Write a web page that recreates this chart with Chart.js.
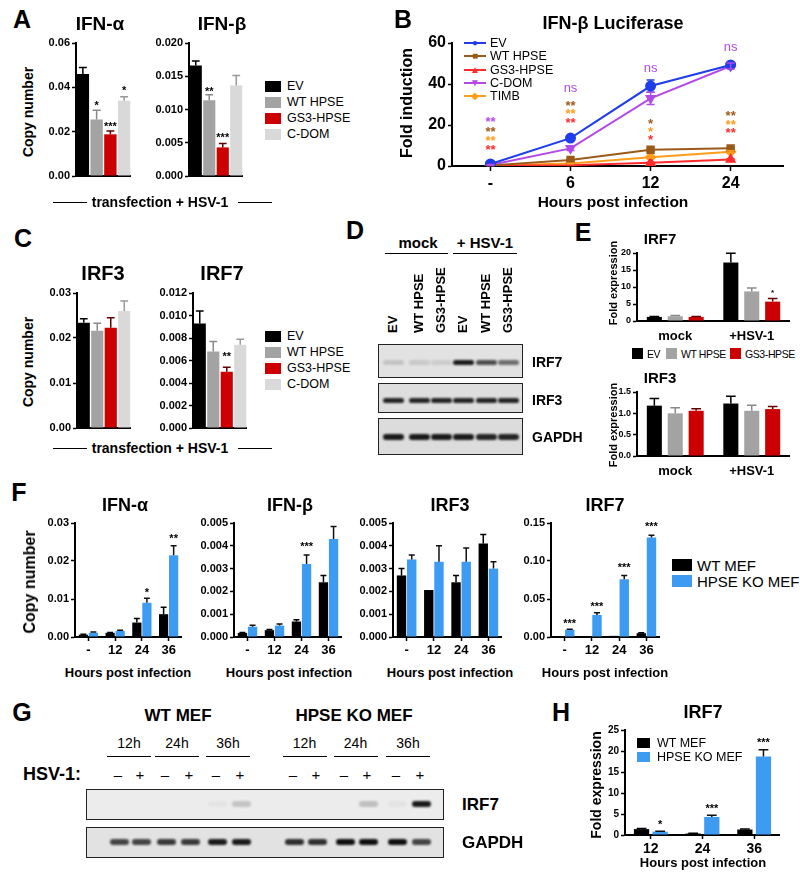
<!DOCTYPE html>
<html>
<head>
<meta charset="utf-8">
<script src="https://cdn.jsdelivr.net/npm/chart.js@4.4.1/dist/chart.umd.min.js"></script>
<style>
  body { margin: 0; background: #fff; }
  #fig { position: relative; width: 800px; height: 872px; overflow: hidden; font-family: "Liberation Sans", Arial, sans-serif; color: #000; }
  #fig canvas { position: absolute; }
  .t { position: absolute; white-space: nowrap; font-weight: bold; line-height: 1; transform: translate(-50%, -50%); }
  .tl { position: absolute; white-space: nowrap; line-height: 1; transform: translateY(-50%); }
  .rot { position: absolute; white-space: nowrap; font-weight: bold; line-height: 1; transform: translate(-50%, -50%) rotate(-90deg); }
  .lane { position: absolute; white-space: nowrap; font-weight: bold; line-height: 1; font-size: 13px; transform-origin: 0 0; transform: rotate(-90deg); }
  .hl { position: absolute; height: 0; border-top: 1.5px solid #000; }
  .sq { position: absolute; }
  .blot { position: absolute; border: 1.5px solid #222; box-sizing: border-box; overflow: hidden; }
  .band { position: absolute; border-radius: 3px; filter: blur(0.9px); }
</style>
</head>
<body>
<div id="fig"></div>
<script>
// ---- datos ----
const grupos = ["EV", "WT HPSE", "GS3-HPSE", "C-DOM"];
const ifnaA = [0.046, 0.0255, 0.0188, 0.034];
const ifnaAErr = [0.003, 0.0042, 0.0015, 0.0018];
const ifnbA = [0.0166, 0.0114, 0.0043, 0.0136];
const ifnbAErr = [0.0007, 0.0008, 0.0006, 0.0015];
const irf3C = [0.0234, 0.0216, 0.0223, 0.026];
const irf3CErr = [0.0009, 0.0017, 0.0022, 0.0022];
const irf7C = [0.0093, 0.0068, 0.005, 0.0074];
const irf7CErr = [0.0011, 0.0009, 0.0004, 0.0005];

const ticksA1 = [0, 0.02, 0.04, 0.06];
const ticksA2 = [0, 0.005, 0.01, 0.015, 0.02];
const ticksC1 = [0, 0.01, 0.02, 0.03];
const ticksC2 = [0, 0.002, 0.004, 0.006, 0.008, 0.01, 0.012];

const horasB = ["-", "6", "12", "24"];
const evB = [1, 13.6, 39, 49.3];
const evBErr = [0.3, 0.8, 3, 1];
const wtB = [0.3, 2.9, 7.9, 8.6];
const wtBErr = [0.1, 0.4, 0.6, 0.5];
const gs3B = [0.1, 0.4, 1.6, 3.2];
const gs3BErr = [0, 0.1, 0.2, 0.3];
const cdomB = [0.5, 8.6, 33, 48.8];
const cdomBErr = [0.2, 1, 3, 1.5];
const timbB = [0.2, 1.2, 4.3, 7.0];
const timbBErr = [0, 0.2, 0.4, 0.4];
const ticksB = [0, 20, 40, 60];

const condE = ["mock", "+HSV-1"];
const irf7E = { ev: [1.2, 17.2], wt: [1.4, 8.7], gs3: [1.2, 5.7] };
const irf7EErr = { ev: [0.1, 2.7], wt: [0.2, 1.0], gs3: [0.1, 0.9] };
const irf3E = { ev: [1.18, 1.23], wt: [1.0, 1.06], gs3: [1.06, 1.1] };
const irf3EErr = { ev: [0.17, 0.17], wt: [0.13, 0.13], gs3: [0.05, 0.06] };
const ticksE1 = [0, 5, 10, 15, 20];
const ticksE2 = [0, 0.5, 1.0, 1.5];

const horasF = ["-", "12", "24", "36"];
const ifnaF = { wt: [0.0006, 0.0011, 0.0038, 0.006], ko: [0.0011, 0.0016, 0.009, 0.0215] };
const ifnaFErr = { wt: [0.0001, 0.0001, 0.0011, 0.0018], ko: [0.0002, 0.0002, 0.0012, 0.0025] };
const ifnbF = { wt: [0.00018, 0.0003, 0.00068, 0.0024], ko: [0.00045, 0.0005, 0.0032, 0.0043] };
const ifnbFErr = { wt: [0.00002, 0.00003, 0.00008, 0.0003], ko: [0.00007, 0.00007, 0.0004, 0.00055] };
const irf3F = { wt: [0.0027, 0.00206, 0.0024, 0.0041], ko: [0.0034, 0.0033, 0.0033, 0.003] };
const irf3FErr = { wt: [0.0003, 0, 0.0003, 0.0004], ko: [0.0002, 0.0007, 0.0006, 0.0003] };
const irf7F = { wt: [0.0005, 0.0005, 0.0015, 0.005], ko: [0.0095, 0.029, 0.076, 0.131] };
const irf7FErr = { wt: [0, 0, 0, 0.0005], ko: [0.0008, 0.003, 0.005, 0.003] };
const ticksF1 = [0, 0.01, 0.02, 0.03];
const ticksF2 = [0, 0.001, 0.002, 0.003, 0.004, 0.005];
const ticksF4 = [0, 0.05, 0.1, 0.15];

const horasH = ["12", "24", "36"];
const irf7H = { wt: [1.4, 0.35, 1.3], ko: [0.8, 4.3, 18.7] };
const irf7HErr = { wt: [0.15, 0.05, 0.1], ko: [0.1, 0.4, 1.6] };
const ticksH = [0, 5, 10, 15, 20, 25];

// asteriscos: serie, indice, altura en unidades del eje
const sigA1 = [{ i: 1, v: 0.033, t: "*" }, { i: 2, v: 0.0235, t: "***" }, { i: 3, v: 0.04, t: "*" }];
const sigA2 = [{ i: 1, v: 0.0132, t: "**" }, { i: 2, v: 0.0062, t: "***" }];
const sigC2 = [{ i: 2, v: 0.0066, t: "**" }];
const sigB = [
  { ds: 3, i: 0, v: 23.4, t: "**" }, { ds: 1, i: 0, v: 18.5, t: "**" }, { ds: 4, i: 0, v: 13.7, t: "**" }, { ds: 2, i: 0, v: 9.3, t: "**" },
  { ds: 3, i: 1, v: 37.6, t: "ns" }, { ds: 1, i: 1, v: 31.2, t: "**" }, { ds: 4, i: 1, v: 27.3, t: "**" }, { ds: 2, i: 1, v: 22.9, t: "**" },
  { ds: 3, i: 2, v: 47.8, t: "ns" }, { ds: 1, i: 2, v: 22.4, t: "*" }, { ds: 4, i: 2, v: 18.5, t: "*" }, { ds: 2, i: 2, v: 14.6, t: "*" },
  { ds: 3, i: 3, v: 57.6, t: "ns" }, { ds: 1, i: 3, v: 25.9, t: "**" }, { ds: 4, i: 3, v: 21.5, t: "**" }, { ds: 2, i: 3, v: 17.6, t: "**" },
];
const sigE1 = [{ ds: 2, i: 1, v: 8.9, t: "*" }];
const sigF1 = [{ ds: 1, i: 2, v: 0.0124, t: "*" }, { ds: 1, i: 3, v: 0.0266, t: "**" }];
const sigF2 = [{ ds: 1, i: 2, v: 0.0041, t: "***" }];
const sigF4 = [{ ds: 1, i: 0, v: 0.021, t: "***" }, { ds: 1, i: 1, v: 0.044, t: "***" }, { ds: 1, i: 2, v: 0.095, t: "***" }, { ds: 1, i: 3, v: 0.149, t: "***" }];
const sigH = [{ ds: 1, i: 0, v: 3.1, t: "*" }, { ds: 1, i: 1, v: 7.1, t: "***" }, { ds: 1, i: 2, v: 22.6, t: "***" }];

// intensidad de bandas de los western blots
const bandasD = { irf7: [0.14, 0.12, 0.1, 0.95, 0.7, 0.55], irf3: [0.9, 0.9, 0.9, 0.9, 0.9, 0.9], gapdh: [0.95, 0.95, 0.95, 0.95, 0.9, 0.9] };
const bandasG = {
  irf7: [0, 0, 0, 0, 0.03, 0.18, 0, 0, 0, 0.2, 0.04, 0.95],
  gapdh: [0.75, 0.75, 0.8, 0.8, 0.95, 0.95, 0.85, 0.85, 1, 1, 1, 0.75],
};

const NEGRO = "#000000", GRIS = "#a3a3a3", ROJO = "#cc0000", CLARO = "#d9d9d9", AZUL = "#3d9bf2";
const COLS_A = [NEGRO, GRIS, ROJO, CLARO];
const ERRS_A = ["#000", "#8a8a8a", "#600", "#999"];
const COLS_B = ["#1f3de8", "#9b5a1a", "#ff2a2a", "#b44ae6", "#ff9c1a"];
const FONT = "'Liberation Sans', Arial, sans-serif";

Chart.defaults.font.family = FONT;
Chart.defaults.color = "#000";

const fig = document.getElementById("fig");
const put = (cls, x, y, text, css = {}) => {
  const d = document.createElement("div");
  d.className = cls;
  d.textContent = text;
  d.style.left = x + "px";
  d.style.top = y + "px";
  Object.assign(d.style, css);
  fig.appendChild(d);
  return d;
};

// barras de error (solo hacia arriba salvo both)
const errBars = {
  id: "errBars",
  afterDatasetsDraw(chart) {
    const ctx = chart.ctx;
    const ys = chart.scales.y;
    chart.data.datasets.forEach((ds, di) => {
      if (!ds.err) return;
      chart.getDatasetMeta(di).data.forEach((el, i) => {
        const e = ds.err[i];
        if (!e) return;
        const raw = ds.data[i];
        const v = typeof raw === "object" ? raw.y : raw;
        const yTop = ys.getPixelForValue(v + e);
        const yBot = ds.both ? ys.getPixelForValue(v - e) : el.y;
        const cap = ds.both ? 4 : el.width * 0.32;
        ctx.save();
        ctx.strokeStyle = Array.isArray(ds.errColor) ? ds.errColor[i] : ds.errColor || "#000";
        ctx.lineWidth = 1.5;
        ctx.beginPath();
        ctx.moveTo(el.x, yBot);
        ctx.lineTo(el.x, yTop);
        ctx.moveTo(el.x - cap, yTop);
        ctx.lineTo(el.x + cap, yTop);
        if (ds.both) {
          ctx.moveTo(el.x - cap, yBot);
          ctx.lineTo(el.x + cap, yBot);
        }
        ctx.stroke();
        ctx.restore();
      });
    });
  },
};

const notes = (lista, size, colores) => ({
  id: "notes",
  afterDatasetsDraw(chart) {
    const ctx = chart.ctx;
    const ys = chart.scales.y;
    lista.forEach((n) => {
      const el = chart.getDatasetMeta(n.ds || 0).data[n.i];
      const y = ys.getPixelForValue(n.v);
      ctx.save();
      ctx.fillStyle = colores ? colores[n.ds] : "#000";
      ctx.font = (n.t === "ns" ? "" : "bold ") + size + "px " + FONT;
      ctx.textAlign = "center";
      ctx.textBaseline = "middle";
      ctx.fillText(n.t, el.x, y + (n.t[0] === "*" ? size * 0.3 : 0));
      ctx.restore();
    });
  },
});

const PADT = 12;
const makeChart = (box, config) => {
  const c = document.createElement("canvas");
  const left = box.x - box.yW;
  c.width = box.right - left;
  c.height = box.bottom - box.top + PADT + box.xH;
  c.style.left = left + "px";
  c.style.top = box.top - PADT + "px";
  fig.appendChild(c);
  config.options.responsive = false;
  config.options.animation = false;
  config.options.layout = { padding: { top: PADT, left: 0, right: 0, bottom: 0 } };
  config.options.plugins = { legend: { display: false }, tooltip: { enabled: false } };
  return new Chart(c, config);
};

const yAxis = (ticks, dec, size, yW) => ({
  min: ticks[0],
  max: ticks[ticks.length - 1],
  afterBuildTicks: (s) => { s.ticks = ticks.map((v) => ({ value: v })); },
  afterFit: (s) => { s.width = yW; },
  border: { display: true, color: "#000", width: 2 },
  grid: { display: true, drawOnChartArea: false, drawTicks: true, tickLength: 4, tickColor: "#000", tickWidth: 1.5, color: "#000" },
  ticks: { color: "#000", padding: 2, font: { size, weight: "bold" }, callback: (v) => Number(v).toFixed(dec) },
});

const xAxis = (xH, size, marks) => ({
  type: "category",
  offset: true,
  afterFit: (s) => { s.height = xH; },
  border: { display: true, color: "#000", width: 2 },
  grid: { display: marks, offset: false, drawOnChartArea: false, drawTicks: true, tickLength: 4, tickColor: "#000", tickWidth: 1.5 },
  ticks: { display: size > 0, color: "#000", padding: marks ? 2 : 4, maxRotation: 0, autoSkip: false, font: { size: size || 10, weight: "bold" } },
});

const barChart = (box, labels, datasets, ticks, dec, opt) =>
  makeChart(box, {
    type: "bar",
    data: { labels, datasets },
    options: {
      datasets: { bar: { categoryPercentage: opt.cat, barPercentage: opt.bar, borderWidth: 0 } },
      scales: { x: xAxis(box.xH, opt.xFont || 0, !!opt.marks), y: yAxis(ticks, dec, opt.yFont, box.yW) },
    },
    plugins: [errBars, notes(opt.notes || [], opt.noteSize || 11)],
  });

// ---- A ----
const optsA = { cat: 1, bar: 0.9, yFont: 11 };
barChart({ x: 76, top: 43, bottom: 176, right: 131, yW: 40, xH: 10 }, grupos,
  [{ data: ifnaA, backgroundColor: COLS_A, err: ifnaAErr, errColor: ERRS_A }], ticksA1, 2, { ...optsA, notes: sigA1 });
barChart({ x: 189, top: 43, bottom: 176, right: 243, yW: 45, xH: 10 }, grupos,
  [{ data: ifnbA, backgroundColor: COLS_A, err: ifnbAErr, errColor: ERRS_A }], ticksA2, 3, { ...optsA, notes: sigA2 });

// ---- C ----
barChart({ x: 77, top: 293, bottom: 428, right: 131, yW: 40, xH: 10 }, grupos,
  [{ data: irf3C, backgroundColor: COLS_A, err: irf3CErr, errColor: ERRS_A }], ticksC1, 2, optsA);
barChart({ x: 193, top: 293, bottom: 428, right: 247, yW: 45, xH: 10 }, grupos,
  [{ data: irf7C, backgroundColor: COLS_A, err: irf7CErr, errColor: ERRS_A }], ticksC2, 3, { ...optsA, notes: sigC2 });

// ---- B ----
const serieB = (label, vals, errs, color, style, rot) => ({
  label,
  data: vals.map((y, x) => ({ x, y })),
  borderColor: color,
  backgroundColor: color,
  borderWidth: 2,
  pointStyle: style,
  pointRotation: rot || 0,
  pointRadius: 4.5,
  err: errs,
  both: true,
  errColor: color,
});
makeChart({ x: 452, top: 43, bottom: 166, right: 790, yW: 45, xH: 30 }, {
  type: "line",
  data: {
    datasets: [
      serieB("EV", evB, evBErr, COLS_B[0], "circle"),
      serieB("WT HPSE", wtB, wtBErr, COLS_B[1], "rect"),
      serieB("GS3-HPSE", gs3B, gs3BErr, COLS_B[2], "triangle"),
      serieB("C-DOM", cdomB, cdomBErr, COLS_B[3], "triangle", 180),
      serieB("TIMB", timbB, timbBErr, COLS_B[4], "rectRot"),
    ],
  },
  options: {
    scales: {
      x: {
        type: "linear",
        min: -0.48,
        max: 3.66,
        afterBuildTicks: (s) => { s.ticks = horasB.map((h, i) => ({ value: i })); },
        afterFit: (s) => { s.height = 30; },
        border: { display: true, color: "#000", width: 2 },
        grid: { display: true, drawOnChartArea: false, tickLength: 5, tickColor: "#000", tickWidth: 1.5 },
        ticks: { padding: 3, font: { size: 16, weight: "bold" }, callback: (v) => horasB[v] },
      },
      y: yAxis(ticksB, 0, 16, 45),
    },
  },
  plugins: [errBars, notes(sigB, 13, COLS_B)],
});

// ---- E ----
const dsE = (d, e) => [
  { data: d.ev, backgroundColor: NEGRO, err: e.ev, errColor: "#000" },
  { data: d.wt, backgroundColor: GRIS, err: e.wt, errColor: "#8a8a8a" },
  { data: d.gs3, backgroundColor: ROJO, err: e.gs3, errColor: "#600" },
];
const optsE = { cat: 0.82, bar: 0.72, yFont: 9, xFont: 13 };
barChart({ x: 637, top: 253, bottom: 321, right: 790, yW: 25, xH: 22 }, condE, dsE(irf7E, irf7EErr), ticksE1, 0, { ...optsE, notes: sigE1, noteSize: 8 });
barChart({ x: 637, top: 392, bottom: 456, right: 790, yW: 25, xH: 24 }, condE, dsE(irf3E, irf3EErr), ticksE2, 1, optsE);

// ---- F ----
const dsF = (d, e) => [
  { data: d.wt, backgroundColor: NEGRO, err: e.wt, errColor: "#000" },
  { data: d.ko, backgroundColor: AZUL, err: e.ko, errColor: "#111" },
];
const optsF = { cat: 0.75, bar: 0.92, yFont: 11, xFont: 13, marks: true };
barChart({ x: 75, top: 523, bottom: 637, right: 182, yW: 40, xH: 22 }, horasF, dsF(ifnaF, ifnaFErr), ticksF1, 2, { ...optsF, notes: sigF1 });
barChart({ x: 234, top: 523, bottom: 637, right: 342, yW: 45, xH: 22 }, horasF, dsF(ifnbF, ifnbFErr), ticksF2, 3, { ...optsF, notes: sigF2 });
barChart({ x: 393, top: 523, bottom: 637, right: 502, yW: 45, xH: 22 }, horasF, dsF(irf3F, irf3FErr), ticksF2, 3, optsF);
barChart({ x: 551, top: 523, bottom: 637, right: 660, yW: 40, xH: 22 }, horasF, dsF(irf7F, irf7FErr), ticksF4, 2, { ...optsF, notes: sigF4 });

// ---- H ----
barChart({ x: 625, top: 730, bottom: 835, right: 780, yW: 22, xH: 22 }, horasH, dsF(irf7H, irf7HErr), ticksH, 0,
  { cat: 0.72, bar: 0.82, yFont: 10, xFont: 14, marks: true, notes: sigH });

// ---- textos ----
[["A", 22, 19], ["B", 403, 19], ["C", 23, 238], ["D", 355, 230], ["E", 583, 232], ["F", 19, 492], ["G", 22, 712], ["H", 561, 712]]
  .forEach(([s, x, y]) => put("t", x, y, s, { fontSize: "25px" }));

[["IFN-α", 100, 23, 19], ["IFN-β", 222, 23, 19], ["IFN-β Luciferase", 613, 23, 18], ["IRF3", 103, 273, 20], ["IRF7", 222, 273, 20],
 ["IRF7", 660, 238, 15], ["IRF3", 660, 377, 15], ["IFN-α", 125, 505, 18], ["IFN-β", 290, 505, 18], ["IRF3", 450, 505, 18],
 ["IRF7", 605, 505, 18], ["IRF7", 703, 712, 18]]
  .forEach(([s, x, y, f]) => put("t", x, y, s, { fontSize: f + "px" }));

[["Copy number", 28, 112, 14], ["Copy number", 28, 362, 14], ["Fold induction", 407, 103, 16], ["Fold expression", 613, 283, 11],
 ["Fold expression", 613, 425, 11], ["Copy number", 30, 582, 16], ["Fold expression", 596, 785, 14]]
  .forEach(([s, x, y, f]) => put("rot", x, y, s, { fontSize: f + "px" }));

[[613, 202, 15.5], [128, 672, 13], [289, 672, 13], [450, 672, 13], [605, 672, 13], [703, 862, 13]]
  .forEach(([x, y, f]) => put("t", x, y, "Hours post infection", { fontSize: f + "px" }));

[202, 448].forEach((y) => {
  put("t", 160, y, "transfection + HSV-1", { fontSize: "14px" });
  put("hl", 53, y, "", { width: "34px" });
  put("hl", 238, y, "", { width: "34px" });
});

// leyendas A y C
[86, 336].forEach((y0) => {
  grupos.forEach((g, i) => {
    const y = y0 + i * 16;
    put("sq", 265, y - 5.5, "", { width: "16px", height: "11px", background: COLS_A[i] });
    put("tl", 287, y, g, { fontSize: "12.5px" });
  });
});

// leyenda B
const marcasB = ["●", "■", "▲", "▼", "◆"];
["EV", "WT HPSE", "GS3-HPSE", "C-DOM", "TIMB"].forEach((s, i) => {
  const y = 43 + i * 13.3;
  put("hl", 464, y - 1, "", { width: "22px", borderTop: "2px solid " + COLS_B[i] });
  put("t", 475, y, marcasB[i], { fontSize: "10px", color: COLS_B[i], fontWeight: "normal" });
  put("tl", 490, y, s, { fontSize: "12.5px" });
});

// leyenda E
[[632, NEGRO, 647, "EV"], [666, GRIS, 681, "WT HPSE"], [730, ROJO, 745, "GS3-HPSE"]].forEach(([sx, c, tx, s]) => {
  put("sq", sx, 348, "", { width: "11px", height: "11px", background: c });
  put("tl", tx, 353.5, s, { fontSize: "10.5px", letterSpacing: "-0.4px" });
});

// leyendas F y H
[["WT MEF", NEGRO], ["HPSE KO MEF", AZUL]].forEach(([s, c], i) => {
  put("sq", 672, 559 + i * 16, "", { width: "20px", height: "12px", background: c });
  put("tl", 697, 565 + i * 16, s, { fontSize: "15px" });
  put("sq", 637, 738 + i * 14, "", { width: "13px", height: "10px", background: c });
  put("tl", 657, 743 + i * 14, s, { fontSize: "12.5px" });
});

// ---- western blots ----
const blot = (x, y, w, h, bg, lanes, levels, by, bw, bh) => {
  const b = put("blot", x, y, "", { width: w + "px", height: h + "px", background: bg });
  lanes.forEach((lx, i) => {
    const a = levels[i];
    if (!a) return;
    const d = document.createElement("div");
    d.className = "band";
    Object.assign(d.style, {
      left: lx - x - bw / 2 + "px", top: by - bh / 2 + "px", width: bw + "px", height: bh + "px",
      background: "rgba(15,15,15," + a + ")",
    });
    b.appendChild(d);
  });
};

// D
const carrilesD = [392, 418, 440, 462, 485, 507];
put("t", 418, 242, "mock", { fontSize: "15px" });
put("t", 485, 242, "+ HSV-1", { fontSize: "15px" });
put("hl", 385, 253, "", { width: "63px" });
put("hl", 453, 253, "", { width: "64px" });
["EV", "WT HPSE", "GS3-HPSE", "EV", "WT HPSE", "GS3-HPSE"].forEach((s, i) => put("lane", carrilesD[i] - 6.5, 333, s));
blot(378, 344, 145, 34, "#e2e2e2", carrilesD, bandasD.irf7, 17, 21, 5);
blot(378, 383, 145, 30, "#dedede", carrilesD, bandasD.irf3, 16, 21, 5);
blot(378, 418, 145, 37, "#dcdcdc", carrilesD, bandasD.gapdh, 18, 21, 6);
[["IRF7", 362], ["IRF3", 400], ["GAPDH", 437]].forEach(([s, y]) => put("tl", 532, y, s, { fontSize: "14px", fontWeight: "bold" }));

// G
const carrilesG = [118, 140, 165, 189, 216, 240, 293, 316, 344, 367, 396, 420];
put("t", 178, 715, "WT MEF", { fontSize: "17px" });
put("t", 354, 715, "HPSE KO MEF", { fontSize: "17px" });
["12h", "24h", "36h", "12h", "24h", "36h"].forEach((s, k) => {
  const cx = (carrilesG[2 * k] + carrilesG[2 * k + 1]) / 2;
  put("t", cx, 743, s, { fontSize: "14px", fontWeight: "normal" });
  put("hl", cx - 22, 756, "", { width: "44px" });
});
put("tl", 23, 774, "HSV-1:", { fontSize: "18px", fontWeight: "bold" });
carrilesG.forEach((x, i) => put("t", x, 774, i % 2 ? "+" : "–", { fontSize: "15px", fontWeight: "normal" }));
blot(86, 789, 358, 31, "#ececec", carrilesG, bandasG.irf7, 14, 19, 6);
blot(86, 827, 358, 31, "#e2e2e2", carrilesG, bandasG.gapdh, 14, 19, 6);
put("tl", 462, 804, "IRF7", { fontSize: "17px", fontWeight: "bold" });
put("tl", 462, 842, "GAPDH", { fontSize: "17px", fontWeight: "bold" });
</script>
</body>
</html>
